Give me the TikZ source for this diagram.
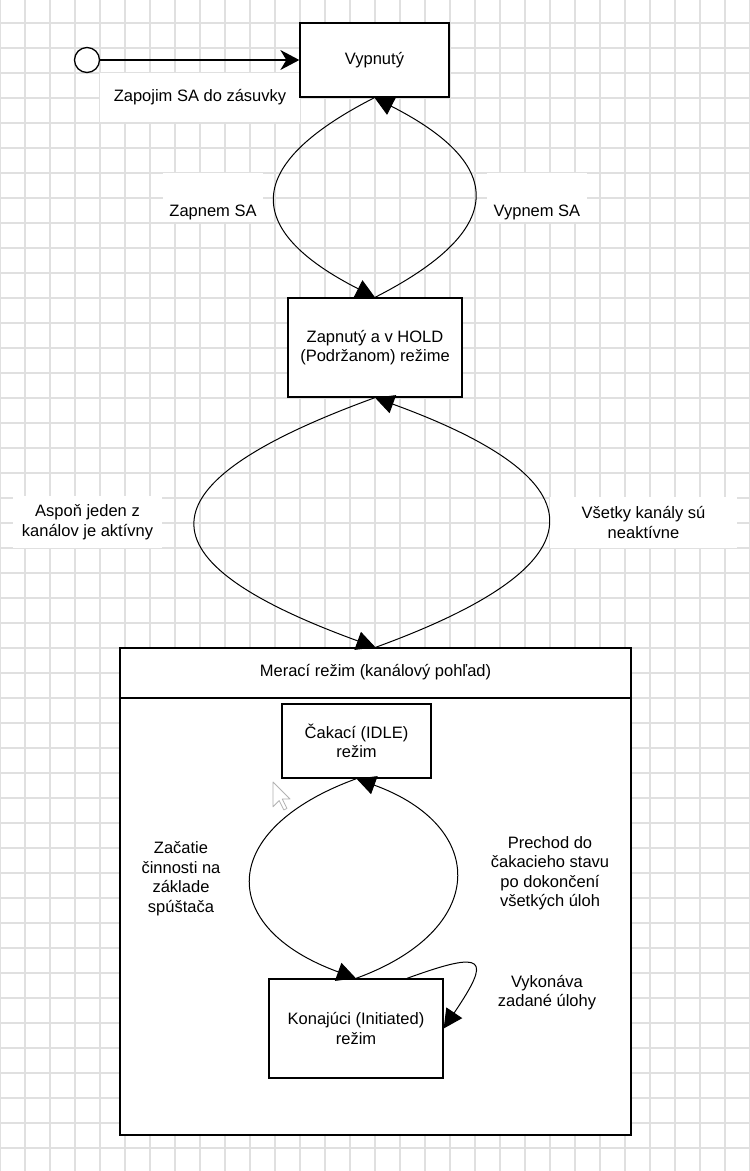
\documentclass[tikz,border=0pt]{standalone}
\usepackage{fontspec}
\setmainfont{Liberation Sans}
\usepackage{tikz}
\usetikzlibrary{arrows.meta}
\definecolor{gridline}{RGB}{224,224,224}

\begin{document}
\begin{tikzpicture}[x=1pt, y=1pt,
        font=\fontsize{16.5}{19.5}\selectfont,
        state/.style={draw, line width=1.3pt, fill=white, align=center, inner sep=0pt},
        lbl/.style={fill=white, align=center, inner sep=0pt},
        trans/.style={line width=1pt, -{Triangle[length=19pt, width=19pt]}}]
        \useasboundingbox (0,0) rectangle (750,-1171);

        % the grid
        \foreach \x in {0,25,...,750}
            \draw[gridline, line width=1.5pt] (\x,0) -- (\x,-1171);
        \foreach \y in {23,48,...,1148}
            \draw[gridline, line width=1.5pt] (0,-\y) -- (750,-\y);

        % labels on the grid
        \node[lbl, minimum width=200pt, minimum height=49pt] (l1) at (200,-97.5) {Zapojim SA do zásuvky};
        \node[lbl, minimum width=100pt, text height=43.7pt, text depth=5.3pt, anchor=base] (l2) at (213,-216.7) {Zapnem SA};
        \node[lbl, minimum width=100pt, text height=43.7pt, text depth=5.3pt, anchor=base] (l3) at (537,-216.7) {Vypnem SA};
        \node[lbl, minimum width=149pt, minimum height=52pt] (l4) at (87.5,-522) {Aspoň jeden z\\kanálov je aktívny};
        \node[lbl, minimum width=187pt, minimum height=51pt] (l5) at (643.5,-522.5) {Všetky kanály sú\\neaktívne};

        % the states
        \node[draw, circle, line width=1.3pt, fill=white, minimum size=25pt, inner sep=0pt] (S) at (87,-60) {};
        \node[state, minimum width=149pt, minimum height=74pt] (V) at (374.5,-60) {Vypnutý};
        \node[state, minimum width=174pt, minimum height=99pt] (Z) at (375,-347.5) {Zapnutý a v HOLD\\(Podržanom) režime};

        % measuring mode
        \node[state, minimum width=511pt, minimum height=487pt] (M) at (375.5,-891.5) {};
        \node[lbl, fill=none, minimum width=511pt, minimum height=50pt, anchor=north] (MH) at (M.north) {Merací režim (kanálový pohľad)};
        \draw[line width=2pt] (MH.south west) -- (MH.south east);
        \node[state, minimum width=149pt, minimum height=74pt] (C) at (356.5,-741) {Čakací (IDLE)\\režim};
        \node[state, minimum width=174pt, minimum height=99pt] (K) at (356,-1028.5) {Konajúci (Initiated)\\režim};

        \node[lbl] (l6) at (181,-878.5) {Začatie\\činnosti na\\základe\\spúštača};
        \node[lbl] (l7) at (550,-873) {Prechod do\\čakacieho stavu\\po dokončení\\všetkých úloh};
        \node[lbl] (l8) at (547,-992.5) {Vykonáva\\zadané úlohy};

        % transitions
        \draw[line width=1.3pt, -{Stealth[length=19pt, width=20pt, inset=6pt]}] (S) -- (V);
        \draw[trans] (V.south) to[out=-153, in=153, looseness=1.9] (Z.north);
        \draw[trans] (Z.north) to[out=27, in=-27, looseness=1.9] (V.south);
        \draw[trans] (Z.south) to[out=-160, in=160, looseness=2.6] (M.north);
        \draw[trans] (M.north) to[out=20, in=-20, looseness=2.5] (Z.south);
        \draw[trans] (C.south) to[out=-160, in=160, looseness=1.9] (K.north);
        \draw[trans] (K.north) to[out=20, in=-20, looseness=1.8] (C.south);
        \draw[trans] ([xshift=51pt]K.north) to[out=20, in=56, looseness=3.5] (K.east);

        % mouse pointer
        \draw[shift={(273,-782)}, x=1.55pt, y=-1.55pt, black!30, fill=white, line width=0.8pt, line join=round]
            (0,0) -- (0,16) -- (4,12) -- (7,18) -- (9,17) -- (6,11) -- (11,11) -- cycle;
    \end{tikzpicture}
\end{document}
